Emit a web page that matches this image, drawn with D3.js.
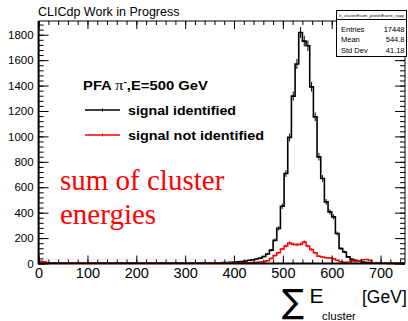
<!DOCTYPE html>
<html>
<head>
<meta charset="utf-8">
<script src="https://cdn.jsdelivr.net/npm/d3@7"></script>
<style>
  body { margin: 0; background: #fff; }
  svg { display: block; font-family: "Liberation Sans", Arial, sans-serif; }
</style>
</head>
<body>
<svg width="408" height="321"></svg>
<script>
// histogram: 100 bins from 0 to 750 GeV
let binLow = 0, binHigh = 750, nBins = 100;
let xTicks = [0, 100, 200, 300, 400, 500, 600, 700];
let yTicks = [0, 200, 400, 600, 800, 1000, 1200, 1400, 1600, 1800];

// signal identified (black)
let identified = [
  15, 12, 6, 4, 3, 2, 3, 2, 3, 2, 2, 3, 2, 3, 2, 2, 3, 2, 2, 3,
  2, 3, 2, 2, 3, 2, 3, 2, 2, 3, 3, 2, 3, 3, 2, 3, 3, 4, 3, 3,
  4, 3, 4, 4, 5, 4, 5, 6, 5, 6, 7, 7, 9, 11, 13, 16, 20, 25, 30, 35,
  42, 55, 75, 105, 183, 276, 451, 708, 992, 1317, 1570, 1817, 1750, 1713, 1390, 1154, 839, 669, 485, 406,
  367, 236, 118, 91, 52, 34, 25, 18, 12, 8, 5, 4, 3, 2, 2, 1, 1, 1, 1, 1
];
// signal not identified (red)
let notIdentified = [
  16, 14, 6, 4, 3, 4, 3, 5, 3, 4, 3, 5, 4, 3, 5, 3, 4, 3, 5, 4,
  3, 4, 5, 3, 4, 3, 5, 4, 3, 4, 6, 3, 5, 4, 3, 4, 5, 4, 3, 5,
  4, 3, 5, 4, 3, 5, 4, 6, 4, 5, 4, 6, 5, 4, 6, 5, 7, 6, 8, 10,
  12, 14, 22, 40, 62, 85, 114, 138, 162, 152, 148, 152, 170, 138, 110, 84, 58, 52, 45, 43,
  37, 26, 14, 10, 10, 24, 16, 20, 30, 32, 24, 6, 3, 2, 2, 1, 1, 1, 1, 1
];

let statLabels = ["Entries", "Mean", "Std Dev"];
let statValues = ["17448", "544.8", "41.18"];

let svg = d3.select("svg");
let frame = { left: 38.6, right: 405, top: 21, bottom: 263.5 };

let x = d3.scaleLinear().domain([binLow, binHigh]).range([frame.left, frame.right]);
let y = d3.scaleLinear().domain([0, 1908]).range([frame.bottom, frame.top]);
let binWidth = (binHigh - binLow) / nBins;

// step outlines, ROOT style
let stepLine = d3.line()
  .x(d => x(d[0]))
  .y(d => y(d[1]))
  .curve(d3.curveStepAfter);

function drawHist(values, colour, width) {
  let pts = values.map((v, i) => [binLow + i * binWidth, v]);
  pts.push([binHigh, values[values.length - 1]]);
  let g = svg.append("g");
  g.append("path")
    .attr("d", stepLine(pts))
    .attr("fill", "none")
    .attr("stroke", colour)
    .attr("stroke-width", width);
  // little error bars at bin centres
  values.forEach((v, i) => {
    if (v <= 0) return;
    let cx = x(binLow + (i + 0.5) * binWidth);
    let e = Math.sqrt(v);
    g.append("line")
      .attr("x1", cx).attr("x2", cx)
      .attr("y1", y(Math.max(0, v - e))).attr("y2", y(v + e))
      .attr("stroke", colour).attr("stroke-width", 1);
  });
}

drawHist(identified, "#000", 1.6);
drawHist(notIdentified, "#ff0000", 1.5);

// axes, ticks pointing into the frame
let xMinor = d3.range(0, 751, 20);
let yMinor = d3.range(0, 1901, 40);

let axBottom = svg.append("g").attr("transform", "translate(0," + frame.bottom + ")");
axBottom.call(d3.axisBottom(x).tickValues(xMinor).tickSize(-4).tickFormat(""));
axBottom.append("g").call(d3.axisBottom(x).tickValues(xTicks).tickSize(-8).tickPadding(4).tickFormat(d3.format("d")));
axBottom.selectAll("text").attr("font-size", 14.5).attr("fill", "#000").attr("font-family", "Liberation Sans, Arial, sans-serif");

let axTop = svg.append("g").attr("transform", "translate(0," + frame.top + ")");
axTop.call(d3.axisTop(x).tickValues(xMinor).tickSize(-4).tickFormat(""));
axTop.append("g").call(d3.axisTop(x).tickValues(xTicks).tickSize(-8).tickFormat(""));

let axLeft = svg.append("g").attr("transform", "translate(" + frame.left + ",0)");
axLeft.call(d3.axisLeft(y).tickValues(yMinor).tickSize(-5).tickFormat(""));
axLeft.append("g").call(d3.axisLeft(y).tickValues(yTicks).tickSize(-10).tickPadding(5).tickFormat(d3.format("d")));
axLeft.selectAll("text").attr("font-size", 11.5).attr("fill", "#000").attr("font-family", "Liberation Sans, Arial, sans-serif");

let axRight = svg.append("g").attr("transform", "translate(" + frame.right + ",0)");
axRight.call(d3.axisRight(y).tickValues(yMinor).tickSize(-5).tickFormat(""));
axRight.append("g").call(d3.axisRight(y).tickValues(yTicks).tickSize(-10).tickFormat(""));

svg.selectAll(".domain").attr("stroke", "none");
svg.selectAll(".tick line").attr("stroke", "#000").attr("stroke-width", 1);

// frame lines
svg.append("line").attr("x1", frame.left).attr("x2", frame.right).attr("y1", frame.bottom).attr("y2", frame.bottom).attr("stroke", "#000").attr("stroke-width", 2);
svg.append("line").attr("x1", frame.left).attr("x2", frame.left).attr("y1", frame.top).attr("y2", frame.bottom + 1).attr("stroke", "#000").attr("stroke-width", 2);
svg.append("line").attr("x1", frame.left).attr("x2", frame.right).attr("y1", frame.top).attr("y2", frame.top).attr("stroke", "#000").attr("stroke-width", 1);
svg.append("line").attr("x1", frame.right).attr("x2", frame.right).attr("y1", frame.top).attr("y2", frame.bottom).attr("stroke", "#000").attr("stroke-width", 1);

// header
svg.append("text").attr("x", 38).attr("y", 16).attr("font-size", 12.5).text("CLICdp Work in Progress");

// stats box
let box = svg.append("g");
box.append("rect").attr("x", 336.5).attr("y", 10.5).attr("width", 70).attr("height", 46)
  .attr("fill", "#fff").attr("stroke", "#000").attr("stroke-width", 1);
box.append("line").attr("x1", 336.5).attr("x2", 406.5).attr("y1", 19.5).attr("y2", 19.5).attr("stroke", "#000");
box.append("text").attr("x", 371.5).attr("y", 17).attr("font-size", 4.3).attr("text-anchor", "middle")
  .text("h_clusterEsum_pionInEvent_copy");
statLabels.forEach((s, i) => {
  box.append("text").attr("x", 341).attr("y", 31.5 + i * 10.8).attr("font-size", 7.5).text(s);
  box.append("text").attr("x", 404.5).attr("y", 31.5 + i * 10.8).attr("font-size", 7.5).attr("text-anchor", "end").text(statValues[i]);
});

// legend (text is a bit wide in the original, so stretch to fit)
let leg = svg.append("g").attr("font-weight", "bold").attr("font-size", 13);
let head = leg.append("text").attr("x", 83).attr("y", 89.5)
  .attr("textLength", 125).attr("lengthAdjust", "spacingAndGlyphs");
head.append("tspan").text("PFA ");
head.append("tspan").attr("font-family", "Liberation Serif, serif").attr("font-weight", "normal").attr("font-size", 14).text("π");
head.append("tspan").attr("dy", -5).attr("font-size", 9).text("-");
head.append("tspan").attr("dy", 5).text(",E=500 GeV");

let legRows = [["signal identified", "#000", 110, 108], ["signal not identified", "#ff0000", 135, 136]];
legRows.forEach(r => {
  leg.append("line").attr("x1", 85).attr("x2", 120).attr("y1", r[2]).attr("y2", r[2]).attr("stroke", r[1]).attr("stroke-width", 1.3);
  leg.append("line").attr("x1", 102.5).attr("x2", 102.5).attr("y1", r[2] - 1.5).attr("y2", r[2] + 1.5).attr("stroke", r[1]).attr("stroke-width", 1);
  leg.append("text").attr("x", 128).attr("y", r[2] + 4.5)
    .attr("textLength", r[3]).attr("lengthAdjust", "spacingAndGlyphs").text(r[0]);
});

// red annotation
let note = svg.append("g").attr("fill", "#ff0000").attr("font-family", "Liberation Serif, Times New Roman, serif").attr("font-size", 29);
note.append("text").attr("x", 60).attr("y", 189.5).text("sum of cluster");
note.append("text").attr("x", 60).attr("y", 224).text("energies");

// x axis title
let xt = svg.append("g");
xt.append("text").attr("x", 282).attr("y", 313).attr("font-size", 33).attr("font-family", "DejaVu Sans, sans-serif").text("∑");
xt.append("text").attr("x", 309.5).attr("y", 302.5).attr("font-size", 21).text("E");
xt.append("text").attr("x", 322).attr("y", 319.5).attr("font-size", 11.5).text("cluster");
xt.append("text").attr("x", 362).attr("y", 303).attr("font-size", 17.5).text("[GeV]");
</script>
</body>
</html>
